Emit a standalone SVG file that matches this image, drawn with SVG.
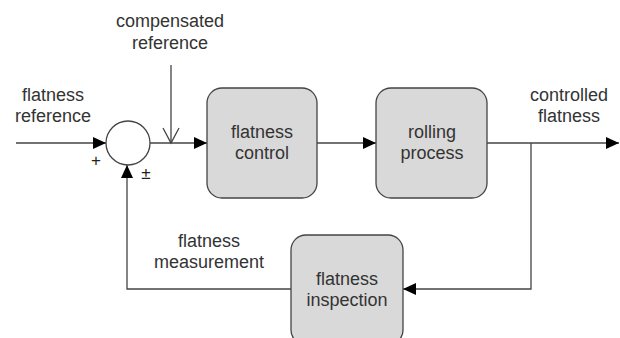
<svg xmlns="http://www.w3.org/2000/svg" width="620" height="338" viewBox="0 0 620 338">
<defs>
<style>
.box{fill:#d9d9d9;stroke:#444;stroke-width:1.3}
.ln{fill:none;stroke:#444;stroke-width:1.3}
.t{font-family:"Liberation Sans",Arial,sans-serif;font-size:18px;fill:#333;text-anchor:middle}
.s{font-family:"Liberation Sans",Arial,sans-serif;font-size:17px;fill:#222;text-anchor:middle}
</style>
<marker id="ah" markerUnits="userSpaceOnUse" markerWidth="14" markerHeight="14" viewBox="0 0 14 14" refX="13" refY="7" orient="auto">
<path d="M0,1 L13,7 L0,13 Z" fill="#000"/>
</marker>
<marker id="va" markerUnits="userSpaceOnUse" markerWidth="18" markerHeight="18" viewBox="0 0 18 18" refX="16" refY="9" orient="auto">
<path d="M1,1 L16,9 L1,17" fill="none" stroke="#444" stroke-width="1.3"/>
</marker>
</defs>
<rect width="620" height="338" fill="#fff"/>
<g id="connectors">
<line class="ln" x1="16" y1="143" x2="106" y2="143" marker-end="url(#ah)"/>
<line class="ln" x1="150" y1="143" x2="207" y2="143" marker-end="url(#ah)"/>
<line class="ln" x1="171" y1="65" x2="171" y2="143" marker-end="url(#va)"/>
<line class="ln" x1="317" y1="143" x2="376" y2="143" marker-end="url(#ah)"/>
<line class="ln" x1="487" y1="143" x2="619" y2="143" marker-end="url(#ah)"/>
<polyline class="ln" points="531,143 531,289 403,289" marker-end="url(#ah)"/>
<polyline class="ln" points="291,289 127,289 127,165" marker-end="url(#ah)"/>
</g>
<g id="sum">
<circle cx="128" cy="143" r="22" fill="#fff" stroke="#444" stroke-width="1.3"/>
<text class="s" x="96" y="166">+</text>
<text class="s" x="146" y="179">±</text>
</g>
<g id="flatness-control">
<rect class="box" x="207" y="88" width="110" height="110" rx="15"/>
<text class="t" x="262" y="138">flatness</text>
<text class="t" x="262" y="159">control</text>
</g>
<g id="rolling-process">
<rect class="box" x="376" y="88" width="111" height="110" rx="15"/>
<text class="t" x="432" y="138">rolling</text>
<text class="t" x="432" y="159">process</text>
</g>
<g id="flatness-inspection">
<rect class="box" x="291" y="235" width="112" height="110" rx="15"/>
<text class="t" x="347" y="285">flatness</text>
<text class="t" x="347" y="306">inspection</text>
</g>
<g id="labels">
<text class="t" x="53" y="101">flatness</text>
<text class="t" x="53" y="122">reference</text>
<text class="t" x="170" y="27">compensated</text>
<text class="t" x="170" y="49">reference</text>
<text class="t" x="569" y="101">controlled</text>
<text class="t" x="569" y="122">flatness</text>
<text class="t" x="209" y="247">flatness</text>
<text class="t" x="209" y="268">measurement</text>
</g>
</svg>
